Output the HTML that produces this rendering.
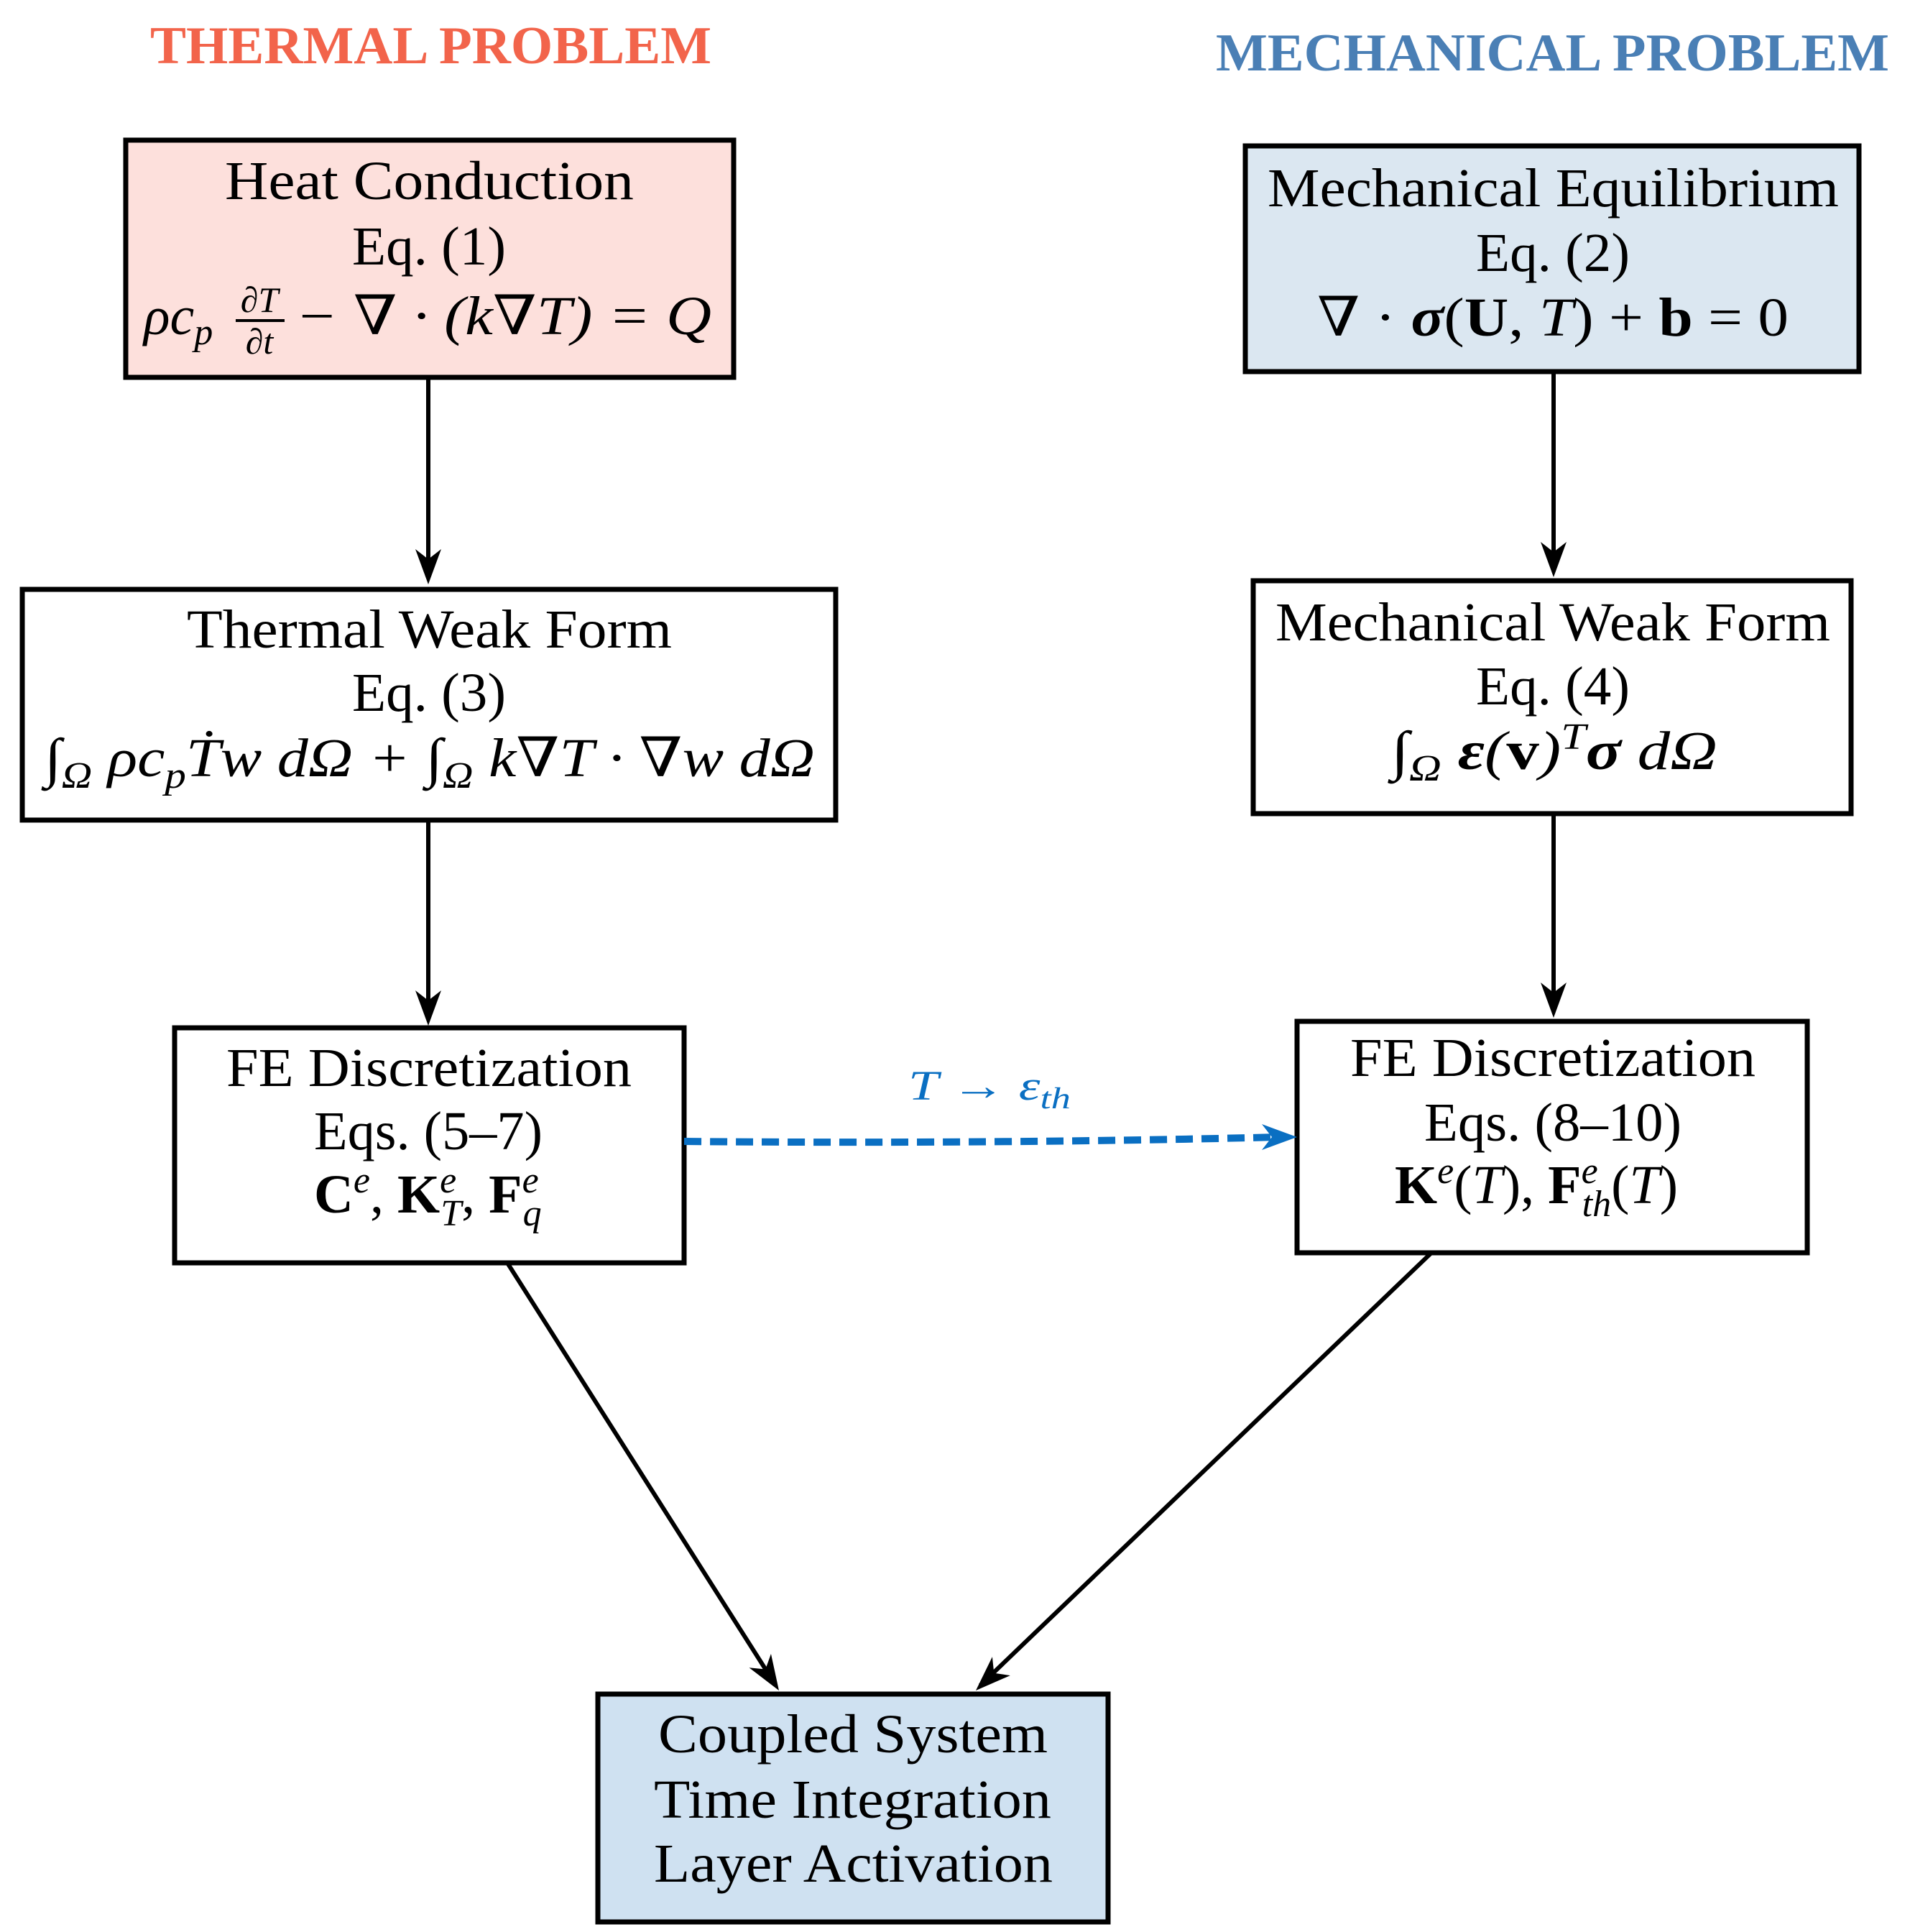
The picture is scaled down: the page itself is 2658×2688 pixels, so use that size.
<!DOCTYPE html>
<html><head><meta charset="utf-8"><style>
html,body{margin:0;padding:0;background:#fff}
svg{display:block}
text{font-family:"Liberation Serif","DejaVu Serif",serif;fill:#000}
.t{font-size:76px;text-anchor:start}
.i{font-style:italic}
</style></head><body>
<svg width="2658" height="2688" viewBox="0 0 2658 2688" xmlns="http://www.w3.org/2000/svg">
<text x="209" y="88" textLength="781" lengthAdjust="spacingAndGlyphs" style="font-size:74px;font-weight:bold;fill:#f2644b">THERMAL PROBLEM</text>
<text x="1692" y="98" textLength="937" lengthAdjust="spacingAndGlyphs" style="font-size:74px;font-weight:bold;fill:#4a7fb5">MECHANICAL PROBLEM</text>

<g stroke="#000" stroke-width="7">
<rect x="175" y="195" width="846" height="330" fill="#fde0dc"/>
<rect x="1733" y="203" width="854" height="314" fill="#dbe7f1"/>
<rect x="31" y="820" width="1132" height="321" fill="#fff"/>
<rect x="1744" y="808" width="832" height="324" fill="#fff"/>
<rect x="243" y="1430" width="709" height="327" fill="#fff"/>
<rect x="1805" y="1421" width="710" height="322" fill="#fff"/>
<rect x="832" y="2357" width="710" height="317" fill="#cfe1f1"/>
</g>

<g stroke="#000" stroke-width="6" fill="none">
<line x1="596" y1="525" x2="596" y2="805"/>
<line x1="2162" y1="517" x2="2162" y2="795"/>
<line x1="596" y1="1141" x2="596" y2="1419"/>
<line x1="2162" y1="1132" x2="2162" y2="1408"/>
<line x1="706" y1="1757" x2="1079" y2="2344"/>
<line x1="1992" y1="1743" x2="1364" y2="2345"/>
</g>
<g fill="#000">
<path d="M596 813 L578 764 L596 778 L614 764 Z"/>
<path d="M2162 803 L2144 754 L2162 768 L2180 754 Z"/>
<path d="M596 1427 L578 1378 L596 1392 L614 1378 Z"/>
<path d="M2162 1416 L2144 1367 L2162 1381 L2180 1367 Z"/>
<g transform="translate(1084,2352) rotate(57.6)"><path d="M0 0 L-49 -18 L-35 0 L-49 18 Z"/></g>
<g transform="translate(1358,2352) rotate(136.2)"><path d="M0 0 L-49 -18 L-35 0 L-49 18 Z"/></g>
</g>
<path d="M952 1588 Q1380 1592 1780 1582" stroke="#0a6fc2" stroke-width="10" fill="none" stroke-dasharray="24 12"/>
<path d="M1805 1582 L1756 1564 L1770 1582 L1756 1600 Z" fill="#0a6fc2"/>
<text x="1264" y="1530" textLength="226" lengthAdjust="spacingAndGlyphs" style="font-size:58px;fill:#0a6fc2" class="i">T → ε<tspan font-size="42" dy="12">th</tspan></text>

<text class="t" x="313" y="277" textLength="569" lengthAdjust="spacingAndGlyphs">Heat Conduction</text>
<text class="t" x="490" y="368" textLength="214" lengthAdjust="spacingAndGlyphs">Eq. (1)</text>
<text class="t i" x="200" y="465">ρc<tspan font-size="52" dy="14">p</tspan></text>
<text class="i" x="361" y="434" style="font-size:50px;text-anchor:middle">∂T</text>
<line x1="328" y1="446" x2="396" y2="446" stroke="#000" stroke-width="4"/>
<text class="i" x="361" y="492" style="font-size:50px;text-anchor:middle">∂t</text>
<text class="t i" x="411" y="465" textLength="579" lengthAdjust="spacingAndGlyphs">− ∇ · (k∇T) = Q</text>

<text class="t" x="1764" y="287" textLength="795" lengthAdjust="spacingAndGlyphs">Mechanical Equilibrium</text>
<text class="t" x="2054" y="377" textLength="214" lengthAdjust="spacingAndGlyphs">Eq. (2)</text>
<text class="t" x="1833" y="467" textLength="656" lengthAdjust="spacingAndGlyphs">∇ · <tspan class="i" font-weight="bold">σ</tspan>(<tspan font-weight="bold">U</tspan>, <tspan class="i">T</tspan>) + <tspan font-weight="bold">b</tspan> = 0</text>

<text class="t" x="260" y="901" textLength="675" lengthAdjust="spacingAndGlyphs">Thermal Weak Form</text>
<text class="t" x="490" y="989" textLength="214" lengthAdjust="spacingAndGlyphs">Eq. (3)</text>
<text class="t i" x="62" y="1080" textLength="1072" lengthAdjust="spacingAndGlyphs">∫<tspan font-size="52" dy="16">Ω</tspan><tspan dy="-16"> ρc</tspan><tspan font-size="52" dy="16">p</tspan><tspan dy="-16">Ṫw dΩ + ∫</tspan><tspan font-size="52" dy="16">Ω</tspan><tspan dy="-16"> k∇T · ∇w dΩ</tspan></text>

<text class="t" x="1775" y="891" textLength="772" lengthAdjust="spacingAndGlyphs">Mechanical Weak Form</text>
<text class="t" x="2054" y="980" textLength="214" lengthAdjust="spacingAndGlyphs">Eq. (4)</text>
<text class="t i" x="1936" y="1070" textLength="454" lengthAdjust="spacingAndGlyphs">∫<tspan font-size="52" dy="16">Ω</tspan><tspan dy="-16" font-weight="bold"> ε</tspan>(<tspan font-weight="bold" font-style="normal">v</tspan>)<tspan font-size="52" dy="-28">T</tspan><tspan dy="28" font-weight="bold">σ</tspan> dΩ</text>

<text class="t" x="315" y="1511" textLength="564" lengthAdjust="spacingAndGlyphs">FE Discretization</text>
<text class="t" x="437" y="1599" textLength="318" lengthAdjust="spacingAndGlyphs">Eqs. (5–7)</text>
<text class="t" x="437" y="1687"><tspan font-weight="bold">C</tspan><tspan class="i" font-size="52" dy="-28">e</tspan><tspan dy="28">, </tspan><tspan font-weight="bold">K</tspan><tspan class="i" font-size="52" dy="-28">e</tspan><tspan class="i" font-size="52" dx="-22" dy="46">T</tspan><tspan dy="-18">, </tspan><tspan font-weight="bold">F</tspan><tspan class="i" font-size="52" dy="-28">e</tspan><tspan class="i" font-size="52" dx="-22" dy="46">q</tspan></text>

<text class="t" x="1879" y="1497" textLength="564" lengthAdjust="spacingAndGlyphs">FE Discretization</text>
<text class="t" x="1982" y="1587" textLength="358" lengthAdjust="spacingAndGlyphs">Eqs. (8–10)</text>
<text class="t" x="1941" y="1674"><tspan font-weight="bold">K</tspan><tspan class="i" font-size="52" dy="-28">e</tspan><tspan dy="28">(</tspan><tspan class="i">T</tspan>), <tspan font-weight="bold">F</tspan><tspan class="i" font-size="52" dy="-28">e</tspan><tspan class="i" font-size="52" dx="-22" dy="46">th</tspan><tspan dy="-18">(</tspan><tspan class="i">T</tspan>)</text>

<text class="t" x="916" y="2438" textLength="542" lengthAdjust="spacingAndGlyphs">Coupled System</text>
<text class="t" x="910" y="2529" textLength="553" lengthAdjust="spacingAndGlyphs">Time Integration</text>
<text class="t" x="910" y="2618" textLength="555" lengthAdjust="spacingAndGlyphs">Layer Activation</text>
</svg>
</body></html>
